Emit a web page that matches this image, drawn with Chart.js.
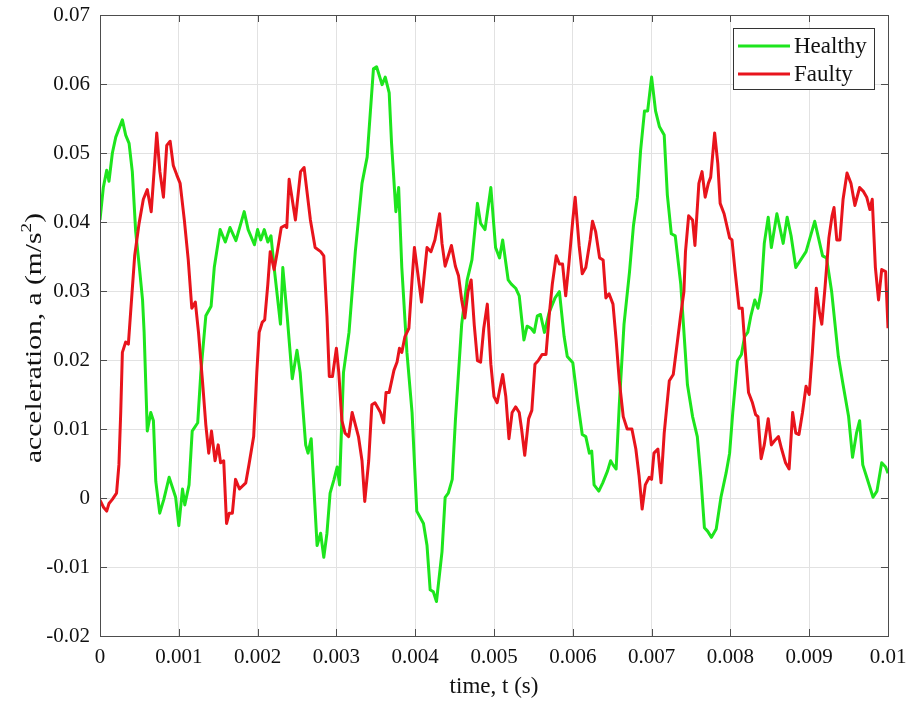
<!DOCTYPE html>
<html>
<head>
<meta charset="utf-8">
<script src="https://cdn.jsdelivr.net/npm/chart.js@4.4.1/dist/chart.umd.min.js"></script>
<style>
  html, body { margin: 0; padding: 0; background: #fff; }
  #wrap { width: 910px; height: 704px; }
</style>
</head>
<body>
<div id="wrap"><canvas id="myChart" width="910" height="704"></canvas></div>
<script>
// time (s) and acceleration (m/s^2)
const healthyTime = [
  0, 0.000042, 0.000085, 0.000114, 0.000157, 0.0002, 0.000284, 0.000326, 0.000369, 0.00041,
  0.000453, 0.0005, 0.00054, 0.00056, 0.0006, 0.000644, 0.000678, 0.000708, 0.000758, 0.00081,
  0.000877, 0.00096, 0.001, 0.001047, 0.001076, 0.00113, 0.00117, 0.00124, 0.00128, 0.001343,
  0.00141, 0.00145, 0.001525, 0.00159, 0.00165, 0.001725, 0.00183, 0.00188, 0.00196, 0.002,
  0.00204, 0.002085, 0.00213, 0.00217, 0.00221, 0.00229, 0.00232, 0.002375, 0.00244, 0.0025,
  0.00254, 0.00261, 0.00264, 0.00268, 0.002755, 0.0028, 0.00284, 0.00288, 0.00292, 0.00297,
  0.00301, 0.00304, 0.00309, 0.00316, 0.00324, 0.003325, 0.00339, 0.00347, 0.00351, 0.00358,
  0.00362, 0.00367, 0.0037, 0.003755, 0.00379, 0.00383, 0.003895, 0.00396, 0.00402, 0.004105,
  0.00415, 0.00419, 0.00423, 0.00427, 0.00434, 0.00438, 0.00442, 0.00447, 0.00451, 0.00459,
  0.00466, 0.00472, 0.00479, 0.00483, 0.004886, 0.00496, 0.00502, 0.00507, 0.00511, 0.00518,
  0.00522, 0.005275, 0.00532, 0.00538, 0.00542, 0.00547, 0.00551, 0.00555, 0.00559, 0.00564,
  0.0057, 0.005775, 0.00583, 0.00589, 0.00593, 0.006, 0.00606, 0.00612, 0.006165, 0.00621,
  0.00624, 0.00627, 0.00633, 0.00638, 0.00644, 0.00648, 0.00651, 0.00655, 0.00659, 0.00665,
  0.00672, 0.00677, 0.00682, 0.00686, 0.00691, 0.00695, 0.007, 0.00705, 0.0071, 0.00716,
  0.0072, 0.00725, 0.0073, 0.00737, 0.007455, 0.00752, 0.00758, 0.007625, 0.00767, 0.00771,
  0.00776, 0.00782, 0.00788, 0.007945, 0.00799, 0.00803, 0.00809, 0.00814, 0.00818, 0.00822,
  0.00826, 0.00831, 0.00835, 0.00839, 0.00843, 0.00848, 0.00852, 0.00859, 0.00867, 0.00872,
  0.00877, 0.00883, 0.00896, 0.00907, 0.00917, 0.00922, 0.009285, 0.00937, 0.00943, 0.0095,
  0.00955, 0.0096, 0.00964, 0.00968, 0.00973, 0.00981, 0.00986, 0.00992, 0.00997, 0.01
];
const healthyAcc = [
  0.0403, 0.0450, 0.0475, 0.0459, 0.0500, 0.0523, 0.0548, 0.0526, 0.0514, 0.0473,
  0.0386, 0.0334, 0.0287, 0.0240, 0.0097, 0.0124, 0.0112, 0.0024, -0.0022, -0.0002,
  0.0030, 0.0001, -0.0040, 0.0013, -0.0010, 0.0019, 0.0097, 0.0109, 0.0182, 0.0264,
  0.0278, 0.0334, 0.0389, 0.0371, 0.0392, 0.0373, 0.0415, 0.0389, 0.0367, 0.0389,
  0.0374, 0.0389, 0.0371, 0.0380, 0.0334, 0.0252, 0.0334, 0.0264, 0.0173, 0.0214,
  0.0182, 0.0077, 0.0065, 0.0086, -0.0069, -0.0051, -0.0086, -0.0051, 0.0007, 0.0027,
  0.0045, 0.0019, 0.0182, 0.0240, 0.0357, 0.0456, 0.0494, 0.0622, 0.0625, 0.0599,
  0.0610, 0.0587, 0.0514, 0.0415, 0.0450, 0.0334, 0.0211, 0.0124, -0.0019, -0.0037,
  -0.0069, -0.0133, -0.0136, -0.0150, -0.0078, 0.0001, 0.0007, 0.0027, 0.0112, 0.0252,
  0.0316, 0.0345, 0.0427, 0.0398, 0.0389, 0.0450, 0.0363, 0.0348, 0.0374, 0.0316,
  0.0310, 0.0304, 0.0293, 0.0229, 0.0249, 0.0246, 0.0240, 0.0264, 0.0266, 0.0240,
  0.0269, 0.0290, 0.0299, 0.0234, 0.0205, 0.0196, 0.0141, 0.0092, 0.0089, 0.0065,
  0.0068, 0.0019, 0.0010, 0.0022, 0.0039, 0.0054, 0.0048, 0.0042, 0.0135, 0.0252,
  0.0328, 0.0395, 0.0436, 0.0503, 0.0561, 0.0561, 0.0610, 0.0561, 0.0538, 0.0526,
  0.0439, 0.0383, 0.0380, 0.0310, 0.0164, 0.0118, 0.0089, 0.0030, -0.0043, -0.0048,
  -0.0057, -0.0045, 0.0001, 0.0036, 0.0065, 0.0124, 0.0199, 0.0208, 0.0234, 0.0240,
  0.0264, 0.0287, 0.0275, 0.0299, 0.0369, 0.0407, 0.0363, 0.0412, 0.0369, 0.0407,
  0.0380, 0.0334, 0.0357, 0.0401, 0.0351, 0.0348, 0.0299, 0.0205, 0.0164, 0.0118,
  0.0059, 0.0094, 0.0112, 0.0048, 0.0030, 0.0001, 0.0010, 0.0051, 0.0045, 0.0036
];

const faultyTime = [
  0, 0.000042, 0.000085, 0.000114, 0.000157, 0.00021, 0.00024, 0.000263, 0.000284, 0.000326,
  0.00036, 0.0004, 0.00044, 0.000496, 0.00055, 0.0006, 0.00065, 0.000686, 0.00072, 0.00076,
  0.000805, 0.000847, 0.00089, 0.00093, 0.000975, 0.001017, 0.00107, 0.00112, 0.001165, 0.00121,
  0.00125, 0.0013, 0.001343, 0.00138, 0.001415, 0.00146, 0.0015, 0.00153, 0.00157, 0.001606,
  0.00164, 0.00168, 0.00172, 0.00177, 0.00185, 0.00189, 0.00195, 0.00199, 0.00202, 0.00206,
  0.00209, 0.00213, 0.00216, 0.00221, 0.00225, 0.0023, 0.00235, 0.00237, 0.0024, 0.00248,
  0.002545, 0.00259, 0.00267, 0.00273, 0.0028, 0.00284, 0.00288, 0.00291, 0.00295, 0.003,
  0.00303, 0.00307, 0.00311, 0.003156, 0.0032, 0.00328, 0.003325, 0.00336, 0.00341, 0.00345,
  0.00349, 0.00356, 0.0036, 0.00363, 0.00367, 0.00373, 0.00377, 0.0038, 0.00383, 0.00387,
  0.00392, 0.00396, 0.00399, 0.00403, 0.00408, 0.00415, 0.0042, 0.00425, 0.00431, 0.00434,
  0.00438, 0.00446, 0.00451, 0.00455, 0.00459, 0.00463, 0.00467, 0.00471, 0.00475, 0.00479,
  0.00483, 0.00487, 0.004915, 0.00496, 0.005, 0.00504, 0.00511, 0.00515, 0.00519, 0.00523,
  0.005275, 0.00532, 0.00535, 0.00539, 0.00544, 0.00548, 0.00552, 0.00556, 0.00561, 0.00566,
  0.0057, 0.00574, 0.00579, 0.00583, 0.00587, 0.00591, 0.00595, 0.006, 0.00603, 0.00608,
  0.00612, 0.006165, 0.00622, 0.00625, 0.00629, 0.00634, 0.006385, 0.00642, 0.00646, 0.00651,
  0.00655, 0.00659, 0.00664, 0.00669, 0.00675, 0.0068, 0.00684, 0.00688, 0.00692, 0.00697,
  0.007, 0.00703, 0.00708, 0.00712, 0.00716, 0.007225, 0.007275, 0.00733, 0.00737, 0.00741,
  0.00743, 0.00747, 0.00752, 0.00755, 0.0076, 0.00764, 0.00768, 0.00772, 0.00775, 0.0078,
  0.00784, 0.00787, 0.00792, 0.00799, 0.00802, 0.00806, 0.00811, 0.00815, 0.00819, 0.00823,
  0.00828, 0.00832, 0.00835, 0.00839, 0.00843, 0.00848, 0.00852, 0.00856, 0.00861, 0.00865,
  0.0087, 0.008745, 0.00879, 0.00883, 0.00887, 0.008915, 0.00896, 0.009, 0.00904, 0.00909,
  0.00913, 0.00916, 0.0092, 0.00925, 0.00929, 0.009315, 0.00935, 0.00939, 0.00943, 0.00948,
  0.00953, 0.00958, 0.00964, 0.00969, 0.00973, 0.00977, 0.0098, 0.00984, 0.00988, 0.00992,
  0.00997, 0.01
];
const faultyAcc = [
  -0.0003, -0.0013, -0.0019, -0.0008, -0.0002, 0.0007, 0.0048, 0.0124, 0.0211, 0.0226,
  0.0223, 0.0287, 0.0351, 0.0398, 0.0433, 0.0447, 0.0415, 0.0473, 0.0529, 0.0473,
  0.0436, 0.0511, 0.0517, 0.0482, 0.0468, 0.0456, 0.0403, 0.0345, 0.0275, 0.0284,
  0.0240, 0.0170, 0.0106, 0.0065, 0.0097, 0.0054, 0.0077, 0.0051, 0.0054, -0.0037,
  -0.0022, -0.0022, 0.0027, 0.0013, 0.0022, 0.0048, 0.0089, 0.0182, 0.0240, 0.0255,
  0.0258, 0.0310, 0.0357, 0.0331, 0.0357, 0.0392, 0.0395, 0.0392, 0.0462, 0.0403,
  0.0473, 0.0479, 0.0403, 0.0363, 0.0357, 0.0351, 0.0264, 0.0176, 0.0176, 0.0217,
  0.0182, 0.0112, 0.0094, 0.0089, 0.0124, 0.0089, 0.0054, -0.0005, 0.0054, 0.0135,
  0.0138, 0.0124, 0.0109, 0.0153, 0.0153, 0.0185, 0.0197, 0.0217, 0.0211, 0.0234,
  0.0246, 0.0316, 0.0363, 0.0328, 0.0284, 0.0363, 0.0357, 0.0374, 0.0412, 0.0369,
  0.0336, 0.0366, 0.0336, 0.0322, 0.0287, 0.0261, 0.0299, 0.0316, 0.0250, 0.0199,
  0.0197, 0.0246, 0.0281, 0.0194, 0.0147, 0.0138, 0.0179, 0.0147, 0.0086, 0.0124,
  0.0132, 0.0124, 0.0100, 0.0062, 0.0115, 0.0127, 0.0194, 0.0199, 0.0208, 0.0208,
  0.0264, 0.0310, 0.0351, 0.0339, 0.0339, 0.0293, 0.0339, 0.0403, 0.0436, 0.0366,
  0.0325, 0.0334, 0.0374, 0.0401, 0.0386, 0.0348, 0.0345, 0.0290, 0.0296, 0.0281,
  0.0229, 0.0170, 0.0118, 0.0100, 0.0100, 0.0071, 0.0033, -0.0016, 0.0019, 0.0030,
  0.0027, 0.0065, 0.0071, 0.0022, 0.0094, 0.0170, 0.0179, 0.0229, 0.0266, 0.0299,
  0.0357, 0.0409, 0.0403, 0.0366, 0.0456, 0.0473, 0.0436, 0.0456, 0.0465, 0.0529,
  0.0485, 0.0427, 0.0412, 0.0377, 0.0374, 0.0328, 0.0275, 0.0275, 0.0211, 0.0153,
  0.0138, 0.0121, 0.0118, 0.0057, 0.0077, 0.0115, 0.0077, 0.0083, 0.0089, 0.0071,
  0.0051, 0.0042, 0.0124, 0.0094, 0.0092, 0.0124, 0.0162, 0.0150, 0.0211, 0.0304,
  0.0269, 0.0252, 0.0304, 0.0377, 0.0409, 0.0421, 0.0374, 0.0374, 0.0433, 0.0471,
  0.0456, 0.0424, 0.0450, 0.0444, 0.0436, 0.0418, 0.0433, 0.0334, 0.0287, 0.0331,
  0.0328, 0.0246
];

const xTickValues = [0, 0.001, 0.002, 0.003, 0.004, 0.005, 0.006, 0.007, 0.008, 0.009, 0.01];
const xTickLabels = ['0', '0.001', '0.002', '0.003', '0.004', '0.005', '0.006', '0.007', '0.008', '0.009', '0.01'];
const yTickValues = [-0.02, -0.01, 0, 0.01, 0.02, 0.03, 0.04, 0.05, 0.06, 0.07];
const yTickLabels = ['-0.02', '-0.01', '0', '0.01', '0.02', '0.03', '0.04', '0.05', '0.06', '0.07'];
const seriesNames = ['Healthy', 'Faulty'];

const FONT = '"Liberation Serif", "Times New Roman", serif';
const GREEN = '#1de51d';
const RED = '#e8141c';

function toPoints(times, values) {
  return times.map((t, i) => ({ x: t, y: values[i] }));
}

// no extra room for overhanging tick labels, keeps the plot box where matlab put it
function noOverhang(s) {
  s.paddingLeft = 0;
  s.paddingRight = 0;
  s.paddingTop = 0;
  s.paddingBottom = 0;
}

// matlab style box, inward ticks, legend and axis titles
const framePlugin = {
  id: 'frame',
  afterDraw(chart) {
    const ctx = chart.ctx;
    const a = chart.chartArea;
    const xs = chart.scales.x;
    const ys = chart.scales.y;
    ctx.save();

    ctx.strokeStyle = '#4d4d4d';
    ctx.lineWidth = 1;
    ctx.strokeRect(Math.round(a.left) + 0.5, Math.round(a.top) + 0.5,
      Math.round(a.right - a.left), Math.round(a.bottom - a.top));

    const tl = 7;
    ctx.beginPath();
    xTickValues.forEach(v => {
      const px = Math.round(xs.getPixelForValue(v)) + 0.5;
      ctx.moveTo(px, a.bottom); ctx.lineTo(px, a.bottom - tl);
      ctx.moveTo(px, a.top); ctx.lineTo(px, a.top + tl);
    });
    yTickValues.forEach(v => {
      const py = Math.round(ys.getPixelForValue(v)) + 0.5;
      ctx.moveTo(a.left, py); ctx.lineTo(a.left + tl, py);
      ctx.moveTo(a.right, py); ctx.lineTo(a.right - tl, py);
    });
    ctx.stroke();

    // legend
    const lx = 733, ly = 28, lw = 141, lh = 61;
    ctx.fillStyle = '#fff';
    ctx.fillRect(lx, ly, lw, lh);
    ctx.strokeStyle = '#333';
    ctx.strokeRect(lx + 0.5, ly + 0.5, lw, lh);
    const rows = [[seriesNames[0], GREEN, 46], [seriesNames[1], RED, 74]];
    ctx.font = '23px ' + FONT;
    ctx.textBaseline = 'middle';
    ctx.textAlign = 'left';
    rows.forEach(r => {
      ctx.strokeStyle = r[1];
      ctx.lineWidth = 3;
      ctx.beginPath();
      ctx.moveTo(738, r[2]); ctx.lineTo(790, r[2]);
      ctx.stroke();
      ctx.fillStyle = '#111';
      ctx.fillText(r[0], 794, r[2] + 1);
    });

    // x title
    ctx.fillStyle = '#111';
    ctx.font = '23px ' + FONT;
    ctx.textAlign = 'center';
    ctx.textBaseline = 'alphabetic';
    ctx.fillText('time, t (s)', (a.left + a.right) / 2, 693);

    // y title with superscript
    ctx.translate(41, 338);
    ctx.rotate(-Math.PI / 2);
    const main = 'acceleration, a (m/s';
    ctx.font = '23px ' + FONT;
    const wMain = ctx.measureText(main).width;
    const wEnd = ctx.measureText(')').width;
    ctx.font = '15px ' + FONT;
    const wSup = ctx.measureText('2').width;
    const total = wMain + wSup + wEnd;
    const sx = 250 / total;
    ctx.scale(sx, 1);
    ctx.textAlign = 'left';
    const x0 = -total / 2;
    ctx.font = '23px ' + FONT;
    ctx.fillText(main, x0, 0);
    ctx.fillText(')', x0 + wMain + wSup, 0);
    ctx.font = '15px ' + FONT;
    ctx.fillText('2', x0 + wMain, -10);

    ctx.restore();
  }
};

const ctx = document.getElementById('myChart').getContext('2d');
const chart = new Chart(ctx, {
  type: 'line',
  data: {
    datasets: [{
      label: seriesNames[0],
      data: toPoints(healthyTime, healthyAcc),
      borderColor: GREEN,
      borderWidth: 3,
      pointRadius: 0,
      tension: 0,
      fill: false,
      borderJoinStyle: 'round',
      order: 1
    }, {
      label: seriesNames[1],
      data: toPoints(faultyTime, faultyAcc),
      borderColor: RED,
      borderWidth: 3,
      pointRadius: 0,
      tension: 0,
      fill: false,
      borderJoinStyle: 'round',
      order: 0
    }]
  },
  options: {
    responsive: false,
    animation: false,
    layout: { padding: { left: 0, right: 22, top: 15, bottom: 0 } },
    plugins: {
      legend: { display: false },
      tooltip: { enabled: false }
    },
    scales: {
      x: {
        type: 'linear',
        min: 0,
        max: 0.01,
        afterBuildTicks: s => { s.ticks = xTickValues.map(v => ({ value: v })); },
        afterFit: s => { s.height = 68; noOverhang(s); },
        ticks: {
          callback: (v, i) => xTickLabels[i],
          font: { family: FONT, size: 21 },
          color: '#111',
          padding: 9,
          maxRotation: 0,
          autoSkip: false
        },
        grid: { color: '#e2e2e2', lineWidth: 1, drawTicks: false },
        border: { display: false }
      },
      y: {
        type: 'linear',
        min: -0.02,
        max: 0.07,
        afterBuildTicks: s => { s.ticks = yTickValues.map(v => ({ value: v })); },
        afterFit: s => { s.width = 100; noOverhang(s); },
        ticks: {
          callback: (v, i) => yTickLabels[i],
          font: { family: FONT, size: 21 },
          color: '#111',
          padding: 10,
          autoSkip: false
        },
        grid: { color: '#e2e2e2', lineWidth: 1, drawTicks: false },
        border: { display: false }
      }
    }
  },
  plugins: [framePlugin]
});
</script>
</body>
</html>
